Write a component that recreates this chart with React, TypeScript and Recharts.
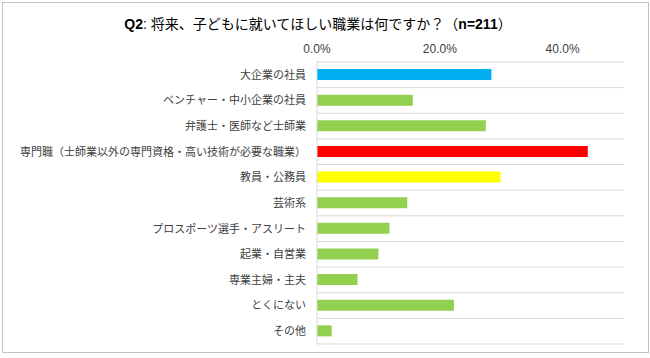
import * as React from 'react';
import { BarChart, Bar, XAxis, YAxis, CartesianGrid, Cell } from 'recharts';

const categories = [
  '大企業の社員',
  'ベンチャー・中小企業の社員',
  '弁護士・医師など士師業',
  '専門職（士師業以外の専門資格・高い技術が必要な職業）',
  '教員・公務員',
  '芸術系',
  'プロスポーツ選手・アスリート',
  '起業・自営業',
  '専業主婦・主夫',
  'とくにない',
  'その他',
];

const shares = [0.284, 0.156, 0.275, 0.441, 0.299, 0.147, 0.118, 0.1, 0.066, 0.223, 0.024];

const xTicks = [0, 0.2, 0.4];

const barColors = [
  '#00B0F0', '#92D050', '#92D050', '#FF0000', '#FFFF00',
  '#92D050', '#92D050', '#92D050', '#92D050', '#92D050', '#92D050',
];

const data = categories.map((name, i) => ({ name, value: shares[i] }));

const FONT = "'Liberation Sans', 'Noto Sans CJK JP', sans-serif";

const App = () => (
  <div style={{ position: 'absolute', left: 0, top: 0, width: 650, height: 358, background: '#fff' }}>
    <div
      style={{
        position: 'absolute', left: 2, top: 2, width: 645, height: 349,
        border: '1px solid #c3c3c3',
      }}
    />
    <BarChart
      width={650}
      height={358}
      data={data}
      layout="vertical"
      margin={{ top: 42, right: 26, bottom: 14, left: 7 }}
      style={{ position: 'absolute', left: 0, top: 0, fontFamily: FONT }}
    >
      <text x={318} y={29} textAnchor="middle" fontSize={14} fill="#000" fontFamily={FONT}>
        <tspan fontWeight="bold">Q2</tspan>
        <tspan>: 将来、子どもに就いてほしい職業は何ですか？（</tspan>
        <tspan fontWeight="bold">n=211</tspan>
        <tspan>）</tspan>
      </text>
      <CartesianGrid
        vertical={false}
        stroke="#d9d9d9"
        horizontalCoordinatesGenerator={({ offset }: any) =>
          categories.map((_, i) => offset.top + (i * offset.height) / categories.length).concat(offset.top + offset.height)
        }
      />
      <XAxis
        type="number"
        orientation="top"
        domain={[0, 0.5]}
        ticks={xTicks}
        height={20}
        axisLine={false}
        tickLine={false}
        tickMargin={3}
        tickFormatter={(v: number) => `${(v * 100).toFixed(1)}%`}
        tick={{ fontSize: 12, fill: '#404040' }}
      />
      <YAxis
        type="category"
        dataKey="name"
        width={310}
        interval={0}
        axisLine={{ stroke: '#d9d9d9' }}
        tickLine={false}
        tickMargin={5}
        tick={{ fontSize: 11, fill: '#404040' }}
      />
      <Bar dataKey="value" barSize={11} isAnimationActive={false}>
        {data.map((d, i) => (
          <Cell key={d.name} fill={barColors[i]} />
        ))}
      </Bar>
    </BarChart>
  </div>
);

export default App;
